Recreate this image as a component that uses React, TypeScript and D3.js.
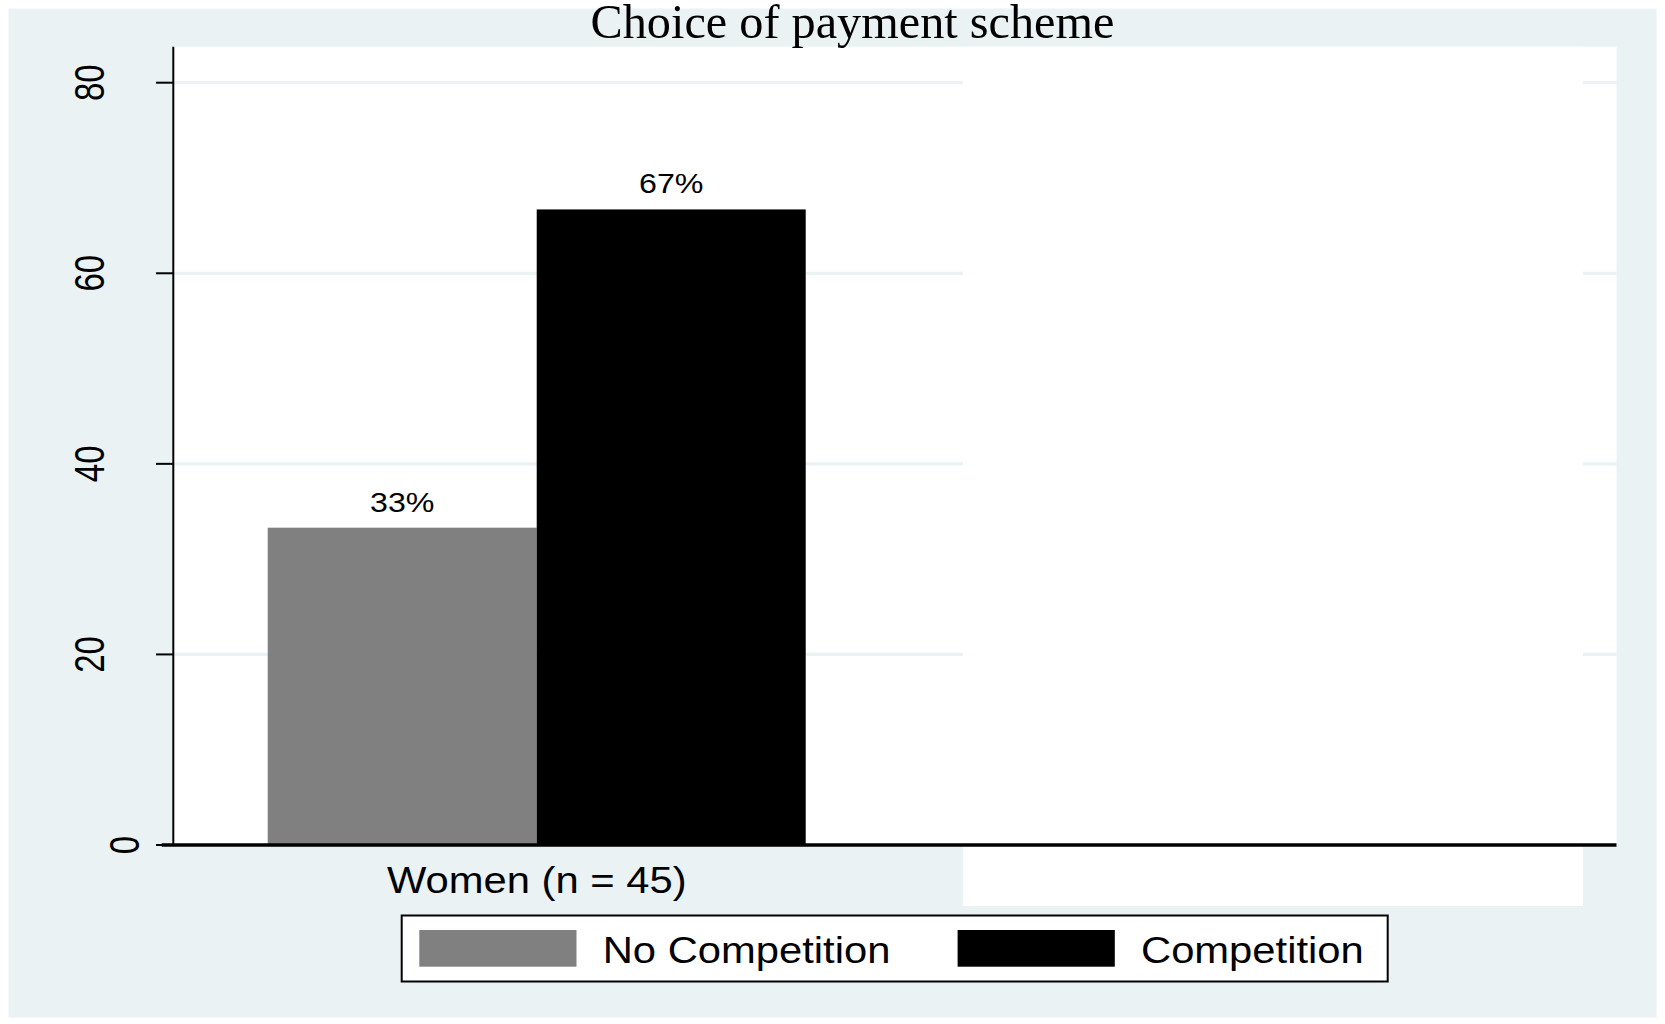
import React from "react";
import * as d3 from "d3";

// ---- data ----
const title = "Choice of payment scheme";
const categories = ["Women (n = 45)"];
const maskedGroup = "__masked__";
const seriesNames = ["No Competition", "Competition"];
const noCompetitionValues = [33.3];
const competitionValues = [66.7];
const valueLabels = [["33%"], ["67%"]];
const yTicks = [0, 20, 40, 60, 80];
const seriesColors = ["#808080", "#000000"];

const W = 1665;
const H = 1024;
const BG = "#eaf2f3";
const SANS = "'Liberation Sans', Arial, sans-serif";
const SERIF = "'Liberation Serif', 'Times New Roman', serif";
const KX = 1.15; // horizontal stretch of the original export

export default function App() {
  const plotL = 173.3;
  const plotR = 1616.5;
  const plotT = 46.7;
  const y = d3.scaleLinear().domain([0, 80]).range([845, 82.7]);
  const x0 = d3
    .scaleBand<string>()
    .domain([...categories, maskedGroup])
    .range([plotL, plotR])
    .paddingInner(0.249)
    .paddingOuter(0.1318);
  const x1 = d3
    .scaleBand<string>()
    .domain(seriesNames)
    .range([0, x0.bandwidth()])
    .padding(0);
  const seriesValues = [noCompetitionValues, competitionValues];
  const y0 = y(0);

  return (
    <div style={{ position: "absolute", left: 0, top: 0 }}>
      <svg width={W} height={H} style={{ display: "block", background: "#fff" }}>
        <rect x={8.5} y={8.5} width={1648} height={1009} fill={BG} />
        {/* plot region */}
        <rect x={plotL} y={plotT} width={plotR - plotL} height={y0 - plotT} fill="#fff" />
        {/* grid */}
        {yTicks
          .filter((t) => t !== 0)
          .map((t) => (
            <line key={"g" + t} x1={plotL} x2={plotR} y1={y(t)} y2={y(t)} stroke={BG} strokeWidth={3.3} />
          ))}
        {/* mask over hidden group */}
        <rect x={963} y={plotT} width={620} height={906 - plotT} fill="#fff" />
        {/* bars */}
        {categories.map((c, ci) => (
          <g key={c} transform={`translate(${x0(c)},0)`}>
            {seriesNames.map((s, si) => {
              const v = seriesValues[si][ci];
              const bx = x1(s) as number;
              const bw = x1.bandwidth();
              return (
                <g key={s}>
                  <rect x={bx} y={y(v)} width={bw} height={y0 - y(v)} fill={seriesColors[si]} />
                  <text
                    transform={`translate(${bx + bw / 2},${y(v) - 16}) scale(${KX},1)`}
                    textAnchor="middle"
                    fontFamily={SANS}
                    fontSize={28}
                    fill="#000"
                  >
                    {valueLabels[si][ci]}
                  </text>
                </g>
              );
            })}
            <text
              transform={`translate(${x0.bandwidth() / 2},893.3) scale(${KX},1)`}
              textAnchor="middle"
              fontFamily={SANS}
              fontSize={36.3}
              fill="#000"
            >
              {c}
            </text>
          </g>
        ))}
        {/* y axis */}
        <line x1={plotL} x2={plotL} y1={plotT} y2={y0} stroke="#000" strokeWidth={2} />
        {yTicks.map((t) => (
          <g key={"t" + t}>
            <line x1={156} x2={plotL} y1={y(t)} y2={y(t)} stroke="#000" strokeWidth={2} />
            <text
              transform={`translate(${t === 0 ? 139 : 104},${y(t)}) scale(1.3,1) rotate(-90)`}
              textAnchor="middle"
              fontFamily={SANS}
              fontSize={33}
              fill="#000"
            >
              {String(t)}
            </text>
          </g>
        ))}
        {/* x axis line */}
        <line x1={161.7} x2={plotR} y1={y0} y2={y0} stroke="#000" strokeWidth={3.4} />
        {/* title */}
        <text
          transform="translate(852.5,38.3) scale(0.985,1)"
          textAnchor="middle"
          fontFamily={SERIF}
          fontSize={49}
          fill="#000"
        >
          {title}
        </text>
        {/* legend */}
        <rect x={401.7} y={915.5} width={986} height={66} fill="#fff" stroke="#000" strokeWidth={2} />
        {seriesNames.map((s, i) => {
          const sx = [419.3, 957.6][i];
          return (
            <g key={"l" + s}>
              <rect x={sx} y={930} width={157.2} height={36.7} fill={seriesColors[i]} />
              <text
                transform={`translate(${sx + 183.4},962.6) scale(${KX},1)`}
                fontFamily={SANS}
                fontSize={36.3}
                fill="#000"
              >
                {s}
              </text>
            </g>
          );
        })}
      </svg>
    </div>
  );
}
